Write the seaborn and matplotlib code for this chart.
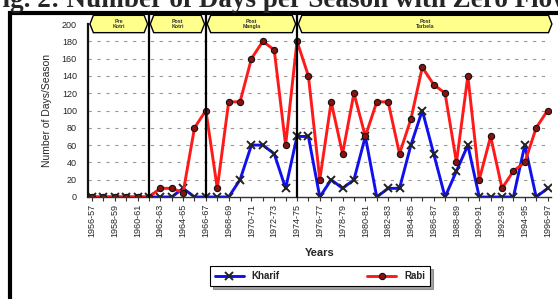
import numpy as np
import matplotlib
matplotlib.use("Agg")
import matplotlib.pyplot as plt
from matplotlib.patches import Polygon, Rectangle
import pandas as pd
import seaborn as sns

# water years 1956-57 ... 1996-97
years = [f"{y}-{str(y + 1)[-2:]}" for y in range(1956, 1997)]

kharif = [0, 0, 0, 0, 0, 0, 0, 0, 10, 0, 0, 0, 0, 20, 60, 60, 50, 10, 70, 70,
          0, 20, 10, 20, 70, 0, 10, 10, 60, 100, 50, 0, 30, 60, 0, 0, 0, 0, 60, 0, 10]
rabi = [0, 0, 0, 0, 0, 0, 10, 10, 5, 80, 100, 10, 110, 110, 160, 180, 170, 60, 180, 140,
        20, 110, 50, 120, 70, 110, 110, 50, 90, 150, 130, 120, 40, 140, 20, 70, 10, 30, 40, 80, 100]

era_names = ["Pre\nKotri", "Post\nKotri", "Post\nMangla", "Post\nTarbela"]
era_bounds = [-0.3, 5, 10, 18, 40.5]

df = pd.DataFrame({"idx": np.arange(len(years)), "year": years,
                   "Kharif": kharif, "Rabi": rabi})

sns.set_style("white")
plt.rcParams["font.family"] = ["Liberation Sans", "DejaVu Sans"]

fig = plt.figure(figsize=(5.58, 2.99), dpi=100)
ax = fig.add_axes([88 / 558, 1 - 197 / 299, (551 - 88) / 558, 173 / 299])

sns.lineplot(data=df, x="idx", y="Kharif", ax=ax, color="#1010ee", lw=2.1,
             marker="x", markersize=6, mec="#222222", mew=1.4, label="Kharif")
sns.lineplot(data=df, x="idx", y="Rabi", ax=ax, color="#ff1a1a", lw=2.1,
             marker="o", markersize=4.5, mfc="#8b1010", mec="#111111", mew=0.8, label="Rabi")

ax.set_xlim(-0.35, 40.3)
ax.set_ylim(0, 200)
ax.set_yticks(range(0, 201, 20))
ax.tick_params(axis="y", labelsize=6.5, length=0, pad=8)
ax.set_xticks(df["idx"])
ax.set_xticklabels([y if i % 2 == 0 else "" for i, y in enumerate(years)],
                   rotation=90, fontsize=6.5)
ax.tick_params(axis="x", length=3, width=0.8, color="#333333", pad=2, bottom=True)

for v in range(20, 201, 20):
    ax.axhline(v, color="#999999", lw=0.8, ls=(0, (3, 5)), zorder=0)

for s in ["top", "right"]:
    ax.spines[s].set_visible(False)
ax.spines["left"].set_linewidth(1.6)
ax.spines["left"].set_color("#111111")
ax.spines["bottom"].set_linewidth(1)
ax.spines["bottom"].set_color("#333333")

ax.set_ylabel("Number of Days/Season", fontsize=7.5, labelpad=7)
ax.set_xlabel("Years", fontsize=8, fontweight="bold", labelpad=8)

# era dividers and labels
trans = ax.get_xaxis_transform()
for b in era_bounds[1:-1]:
    ax.plot([b, b], [0, 1.05], transform=trans, color="black", lw=1.6,
            clip_on=False, zorder=4)
y0, y1 = 0.95, 1.05
d = 0.3
for name, a, b in zip(era_names, era_bounds[:-1], era_bounds[1:]):
    a2, b2 = a + 0.12, b - 0.12
    pts = [(a2, (y0 + y1) / 2), (a2 + d, y1), (b2 - d, y1), (b2, (y0 + y1) / 2),
           (b2 - d, y0), (a2 + d, y0)]
    ax.add_patch(Polygon(pts, closed=True, transform=trans, facecolor="#ffff8c",
                         edgecolor="black", lw=1, clip_on=False, zorder=5))
    ax.text((a + b) / 2, (y0 + y1) / 2, name, transform=trans, ha="center",
            va="center", fontsize=3.8, fontweight="bold", linespacing=0.9,
            color="#333333", zorder=6)

leg = ax.legend(loc="center", bbox_to_anchor=(320 / 558, 1 - 276 / 299),
                bbox_transform=fig.transFigure, ncol=2, frameon=True,
                fancybox=False, shadow=True, edgecolor="black",
                prop={"size": 7, "weight": "bold"}, handlelength=3,
                columnspacing=9, borderpad=0.5)
leg.get_frame().set_linewidth(0.8)

# caption of the source figure, cut off by the top edge as in the original
fig.text(-14 / 558, 1 - 7 / 299, "Fig. 2: Number of Days per Season with Zero Flow",
         fontsize=19.5, fontweight="bold", family="Liberation Serif", va="baseline")
fig.patches.append(Rectangle((9.5 / 558, -0.1), 2, 1 - 13 / 299 + 0.1,
                             transform=fig.transFigure, fill=False, lw=3,
                             edgecolor="black"))

fig.savefig("out.png", dpi=100)
